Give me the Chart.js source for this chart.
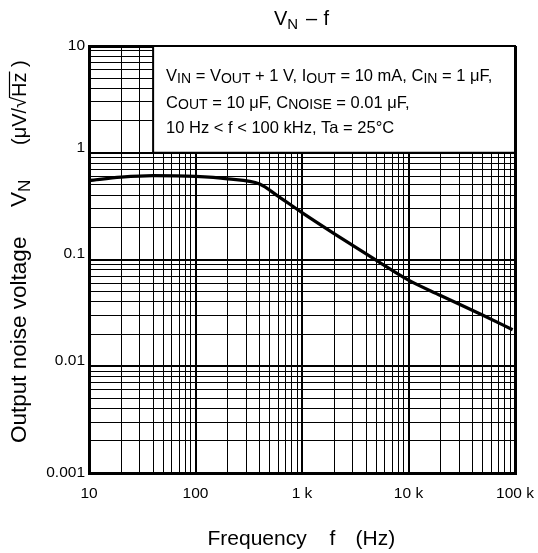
<!DOCTYPE html>
<html>
<head>
<meta charset="utf-8">
<script src="https://cdn.jsdelivr.net/npm/chart.js@4.4.1/dist/chart.umd.min.js"></script>
<style>
  html, body { margin: 0; padding: 0; background: #fff; }
  #wrap { width: 538px; height: 553px; }
</style>
</head>
<body>
<div id="wrap"><canvas id="vnChart" width="538" height="553"></canvas></div>
<script>
// curve: frequency (Hz) vs output noise voltage (uV/rtHz)
const freqHz  = [10, 20, 40, 100, 200, 400, 600, 1000, 2000, 5000, 10000, 20000, 50000, 95000];
const noiseUv = [0.55, 0.59, 0.61, 0.60, 0.57, 0.51, 0.39, 0.275, 0.175, 0.098, 0.064, 0.046, 0.030, 0.022];

const xDecades = [10, 100, 1000, 10000, 100000];
const xTickLabels = ['10', '100', '1 k', '10 k', '100 k'];
const yDecades = [0.001, 0.01, 0.1, 1, 10];
const yTickLabels = ['0.001', '0.01', '0.1', '1', '10'];

// conditions box sits over this part of the grid (Hz, uV/rtHz)
const boxFreq = [40, 100000];
const boxVolt = [1, 10];
// [text, isSubscript]
const boxLines = [
  [['V'], ['IN', 1], [' = V'], ['OUT', 1], [' + 1 V, I'], ['OUT', 1], [' = 10 mA, C'], ['IN', 1], [' = 1 μF,']],
  [['C'], ['OUT', 1], [' = 10 μF, C'], ['NOISE', 1], [' = 0.01 μF,']],
  [['10 Hz < f < 100 kHz, Ta = 25°C']]
];

const FONT = '"Liberation Sans", Arial, Helvetica, sans-serif';

function decadeIndex(list, v) {
  return list.findIndex(d => Math.abs(Math.log10(d) - Math.log10(v)) < 1e-6);
}

// 1..9 x 10^n between the first and last decade
function logGridTicks(decades) {
  const out = [];
  for (let i = 0; i < decades.length - 1; i++) {
    for (let m = 1; m < 10; m++) out.push({ value: decades[i] * m });
  }
  out.push({ value: decades[decades.length - 1] });
  return out;
}

function gridWidth(decades, v) {
  const idx = decadeIndex(decades, v);
  if (idx === 0 || idx === decades.length - 1) return 3;
  return idx >= 0 ? 2 : 1;
}

// draw a row of text pieces, subscripts smaller and a little lower
function drawRuns(ctx, runs, x, y, size, subSize, drop) {
  runs.forEach(([t, sub]) => {
    ctx.font = (sub ? subSize : size) + 'px ' + FONT;
    ctx.fillText(t, x, sub ? y + drop : y);
    x += ctx.measureText(t).width;
  });
  return x;
}

const textPlugin = {
  id: 'vnText',
  afterDatasetsDraw(chart) {
    const ctx = chart.ctx;
    const xs = chart.scales.x, ys = chart.scales.y;
    const l = xs.getPixelForValue(boxFreq[0]);
    const r = xs.getPixelForValue(boxFreq[1]);
    const t = ys.getPixelForValue(boxVolt[1]);
    const b = ys.getPixelForValue(boxVolt[0]);

    ctx.save();
    ctx.fillStyle = '#fff';
    ctx.fillRect(l, t, r - l, b - t);
    ctx.strokeStyle = '#000';
    ctx.lineWidth = 2;
    ctx.strokeRect(l, t, r - l, b - t);

    ctx.fillStyle = '#000';
    ctx.textBaseline = 'alphabetic';
    ctx.textAlign = 'left';
    const baselines = [35, 61.5, 87];
    boxLines.forEach((runs, i) => {
      drawRuns(ctx, runs, l + 13, t + baselines[i], 16.5, 14, 1.5);
    });
    ctx.restore();
  },
  afterDraw(chart) {
    const ctx = chart.ctx;
    ctx.save();
    ctx.fillStyle = '#000';
    ctx.textBaseline = 'alphabetic';
    ctx.textAlign = 'left';

    // chart title  V_N – f
    drawRuns(ctx, [['V'], ['N', 1]], 274, 25, 20, 15, 4);
    ctx.font = '20px ' + FONT;
    ctx.fillText('–', 306, 25);
    ctx.fillText('f', 323.5, 25);

    // x axis title
    ctx.font = '21px ' + FONT;
    ctx.fillText('Frequency', 207.5, 545);
    ctx.fillText('f', 329.5, 545);
    ctx.fillText('(Hz)', 355.5, 545);

    // y axis title, rotated
    ctx.translate(26, 443);
    ctx.rotate(-Math.PI / 2);
    ctx.font = '22.5px ' + FONT;
    ctx.fillText('Output noise voltage', 0, 0);
    drawRuns(ctx, [['V'], ['N', 1]], 236, 0, 22.5, 17, 4);
    ctx.font = '20px ' + FONT;
    let px = 298;
    ctx.fillText('(μV/√', px, 0);
    px += ctx.measureText('(μV/√').width;
    const hzW = ctx.measureText('Hz').width;
    ctx.fillText('Hz', px, 0);
    ctx.lineWidth = 1.2;
    ctx.strokeStyle = '#000';
    ctx.beginPath();
    ctx.moveTo(px - 1, -16.5);
    ctx.lineTo(px + hzW + 1, -16.5);
    ctx.stroke();
    ctx.fillText(' )', px + hzW, 0);
    ctx.restore();
  }
};

const ctx = document.getElementById('vnChart');
new Chart(ctx, {
  type: 'scatter',
  data: {
    datasets: [{
      data: freqHz.map((f, i) => ({ x: f, y: noiseUv[i] })),
      showLine: true,
      borderColor: '#000',
      borderWidth: 3.2,
      pointRadius: 0,
      cubicInterpolationMode: 'monotone',
      fill: false
    }]
  },
  options: {
    responsive: false,
    animation: false,
    events: [],
    layout: { padding: { left: 0, top: 46, right: 23, bottom: 0 } },
    plugins: {
      legend: { display: false },
      tooltip: { enabled: false },
      title: { display: false }
    },
    scales: {
      x: {
        type: 'logarithmic',
        min: xDecades[0],
        max: xDecades[xDecades.length - 1],
        afterBuildTicks: s => { s.ticks = logGridTicks(xDecades); },
        afterFit: s => { s.height = 80; s.paddingLeft = 0; s.paddingRight = 0; },
        border: { display: true, color: '#000', width: 3 },
        grid: {
          drawTicks: false,
          color: '#000',
          lineWidth: c => gridWidth(xDecades, c.tick.value)
        },
        ticks: {
          autoSkip: false,
          maxRotation: 0,
          padding: 11,
          color: '#000',
          font: { family: FONT, size: 15.5 },
          callback: v => {
            const i = decadeIndex(xDecades, v);
            return i >= 0 ? xTickLabels[i] : '';
          }
        }
      },
      y: {
        type: 'logarithmic',
        min: yDecades[0],
        max: yDecades[yDecades.length - 1],
        afterBuildTicks: s => { s.ticks = logGridTicks(yDecades); },
        afterFit: s => { s.width = 89; s.paddingTop = 0; s.paddingBottom = 0; },
        border: { display: true, color: '#000', width: 3 },
        grid: {
          drawTicks: false,
          color: '#000',
          lineWidth: c => gridWidth(yDecades, c.tick.value)
        },
        ticks: {
          autoSkip: false,
          padding: 4,
          color: '#000',
          font: c => {
            const i = decadeIndex(yDecades, c.tick.value);
            const mid = i > 0 && i < yDecades.length - 1;
            return { family: FONT, size: 15.5, lineHeight: mid ? 0.7 : 1.2 };
          },
          callback: v => {
            const i = decadeIndex(yDecades, v);
            if (i < 0) return '';
            // inner labels sit just above their line
            return (i > 0 && i < yDecades.length - 1) ? [yTickLabels[i], ''] : yTickLabels[i];
          }
        }
      }
    }
  },
  plugins: [textPlugin]
});
</script>
</body>
</html>
